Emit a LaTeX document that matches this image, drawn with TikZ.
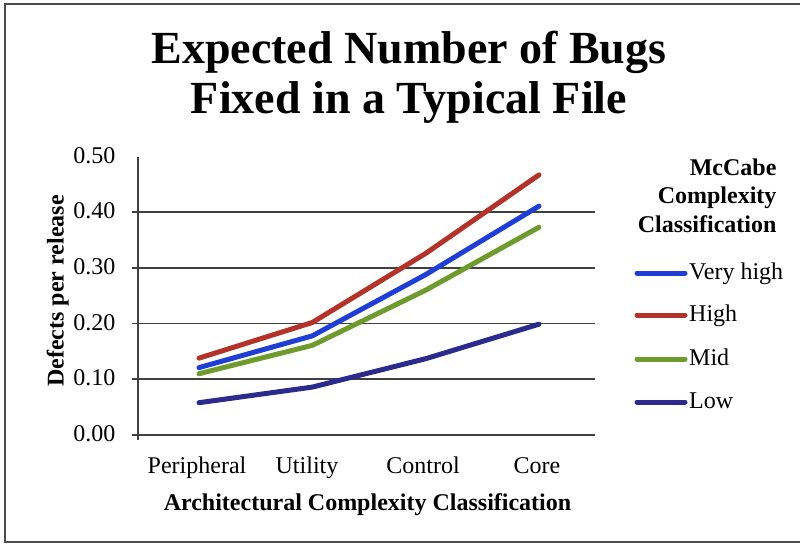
\documentclass[tikz,border=0pt]{standalone}
\usepackage{fontspec}
\setmainfont{Liberation Serif}
\usetikzlibrary{calc}
\tikzset{>=latex}
\definecolor{vhigh}{HTML}{1F3ED6}
\definecolor{high}{HTML}{B3322A}
\definecolor{mid}{HTML}{6F9A2D}
\definecolor{low}{HTML}{2B2B8E}

\begin{document}
\begin{tikzpicture}[x=1pt,y=-1pt,
    gridline/.style={draw=black!75,line width=1.8pt},
    series/.style={line width=5pt,line cap=round,line join=round},
    plain/.style={font=\fontsize{24}{28}\selectfont},
    heavy/.style={font=\fontsize{24}{28}\selectfont\bfseries}]
    \useasboundingbox (0,0) rectangle (800,544);
    \draw[black!70,line width=1.5pt] (800,4) -- (5,4) -- (5,542) -- (800,542);
    \node[font=\fontsize{46}{50}\selectfont\bfseries,anchor=base] (title1) at (409,63) {Expected Number of Bugs};
    \node[font=\fontsize{46}{50}\selectfont\bfseries,anchor=base] (title2) at (409,113) {Fixed in a Typical File};
    \begin{scope}[shift={(0,435)},yscale=-557]
      \foreach \v in {0,0.1,...,0.5}
        \draw[gridline] (132,\v) -- (595,\v);
      \draw[series,vhigh] (199,0.121) -- (312.3,0.178) -- (425.7,0.288) -- (539,0.411);
      \draw[series,high] (199,0.138) -- (312.3,0.202) -- (425.7,0.326) -- (539,0.467);
      \draw[series,mid] (199,0.110) -- (312.3,0.161) -- (425.7,0.260) -- (539,0.373);
      \draw[series,low] (199,0.058) -- (312.3,0.086) -- (425.7,0.137) -- (539,0.199);
    \end{scope}
    \draw[gridline] (138,156.5) -- (138,440);
    \foreach \v/\t [count=\i] in {0/0.00,0.1/0.10,0.2/0.20,0.3/0.30,0.4/0.40,0.5/0.50}
      \node[plain,anchor=base east] (tick\i) at (119,{441.5-557*\v}) {\t};
    % axis titles and categories
    \node[heavy,rotate=90,anchor=base] (ylab) at (63.5,291) {Defects per release};
    \foreach \x/\t [count=\i] in {197/Peripheral,307/Utility,423/Control,537/Core}
      \node[plain,anchor=base] (cat\i) at (\x,473.5) {\t};
    \node[heavy,anchor=base] (xlab) at (367.5,510) {Architectural Complexity Classification};
    % key
    \foreach \t [count=\i] in {McCabe,Complexity,Classification}
      \node[heavy,anchor=base east] (key\i) at (780,{146.5+28.5*\i}) {\t};
    \foreach \c/\t/\y [count=\i] in {vhigh/Very high/273,high/High/315,mid/Mid/359,low/Low/402} {
      \draw[series,\c] (637,\y) -- (685,\y);
      \node[plain,anchor=base west,inner sep=0pt] (leg\i) at (689,\y+6.5) {\t};
    }
\end{tikzpicture}
\end{document}
